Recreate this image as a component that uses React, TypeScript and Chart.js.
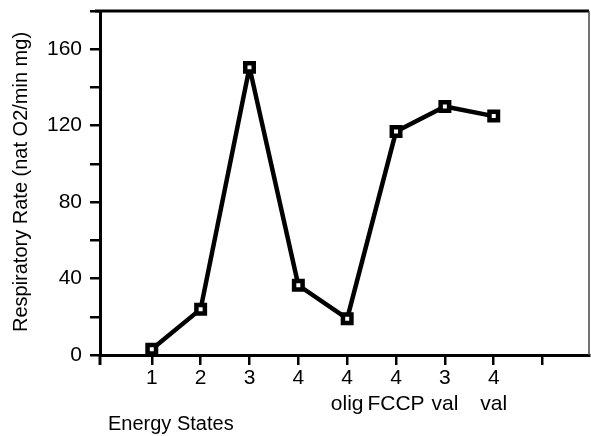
import React, { useEffect, useRef } from "react";
import { Chart, registerables } from "chart.js";

Chart.register(...registerables);

const xPositions = [1, 2, 3, 4, 5, 6, 7, 8];
const rates = [3, 24, 150.5, 36.5, 19, 117, 130, 125];
const xTickLabels: (string | string[])[] = ["", "1", "2", "3", "4", ["4", "olig"], ["4", "FCCP"], ["3", "val"], ["4", "val"], ""];
const xTickValues = [1, 2, 3, 4, 5, 6, 7, 8, 9];
const yLabelEvery = 40;
const yTitle = "Respiratory Rate (nat O2/min mg)";
const xTitle = "Energy States";

const FONT = "'Liberation Sans', Arial, Helvetica, sans-serif";

function zeroPad(scale: any) {
  scale.paddingLeft = 0;
  scale.paddingRight = 0;
  scale.paddingTop = 0;
  scale.paddingBottom = 0;
}

export default function App() {
  const ref = useRef<HTMLCanvasElement | null>(null);

  useEffect(() => {
    document.body.style.margin = "0";
    const canvas = ref.current!;
    const framePlugin = {
      id: "frame",
      afterDraw(chart: any) {
        const { ctx, chartArea } = chart;
        const { left, right, top, bottom } = chartArea;
        ctx.save();
        ctx.strokeStyle = "#000";
        ctx.lineWidth = 3;
        ctx.beginPath();
        ctx.moveTo(left - 5, top);
        ctx.lineTo(right, top);
        ctx.stroke();
        ctx.beginPath();
        ctx.moveTo(left, bottom);
        ctx.lineTo(left, bottom + 10);
        ctx.stroke();
        ctx.strokeStyle = "#444";
        ctx.lineWidth = 1.5;
        ctx.beginPath();
        ctx.moveTo(right, top);
        ctx.lineTo(right, bottom);
        ctx.stroke();
        ctx.fillStyle = "#000";
        ctx.font = `20px ${FONT}`;
        ctx.textAlign = "center";
        ctx.textBaseline = "middle";
        ctx.translate(21, 182);
        ctx.rotate(-Math.PI / 2);
        ctx.fillText(yTitle, 0, 0);
        ctx.restore();
        ctx.save();
        ctx.fillStyle = "#000";
        ctx.font = `20px ${FONT}`;
        ctx.textAlign = "left";
        ctx.textBaseline = "alphabetic";
        ctx.fillText(xTitle, left + 8, 430);
        ctx.restore();
      },
    };

    const chart = new Chart(canvas, {
      type: "line",
      data: {
        datasets: [
          {
            data: xPositions.map((x, i) => ({ x, y: rates[i] })),
            borderColor: "#000",
            borderWidth: 4.5,
            borderJoinStyle: "round",
            pointStyle: "rect",
            pointRadius: 6,
            pointBorderWidth: 4.5,
            pointBackgroundColor: "#fff",
            pointBorderColor: "#000",
            tension: 0,
          },
        ],
      },
      options: {
        responsive: false,
        animation: false,
        layout: { autoPadding: false, padding: { top: 11, right: 2, left: 0, bottom: 0 } },
        plugins: { legend: { display: false }, tooltip: { enabled: false } },
        scales: {
          x: {
            type: "linear",
            min: -0.06,
            max: 9.95,
            afterBuildTicks: (scale: any) => {
              scale.ticks = xTickValues.map((v) => ({ value: v }));
            },
            afterFit: (scale: any) => {
              scale.height = 81;
              zeroPad(scale);
            },
            border: { display: true, color: "#000", width: 3 },
            grid: {
              drawOnChartArea: false,
              drawTicks: true,
              tickLength: 10,
              lineWidth: 2.5,
              color: "#000",
            },
            ticks: {
              autoSkip: false,
              maxRotation: 0,
              padding: 1,
              color: "#000",
              font: { family: FONT, size: 21, lineHeight: 1.2 },
              callback: (v: any) => xTickLabels[Math.round(Number(v))] ?? "",
            },
          },
          y: {
            type: "linear",
            min: 0,
            max: 180,
            afterFit: (scale: any) => {
              scale.width = 100;
              zeroPad(scale);
            },
            border: { display: true, color: "#000", width: 3 },
            grid: {
              drawOnChartArea: false,
              drawTicks: true,
              tickLength: 10,
              lineWidth: 2.5,
              color: "#000",
            },
            ticks: {
              stepSize: 20,
              padding: 8,
              color: "#000",
              font: { family: FONT, size: 21 },
              callback: (v: any) => (Number(v) % yLabelEvery === 0 && Number(v) < 180 ? String(v) : ""),
            },
          },
        },
      },
      plugins: [framePlugin],
    });
    return () => chart.destroy();
  }, []);

  return (
    <div style={{ width: 591, height: 436, background: "#fff" }}>
      <canvas ref={ref} width={591} height={436} />
    </div>
  );
}
